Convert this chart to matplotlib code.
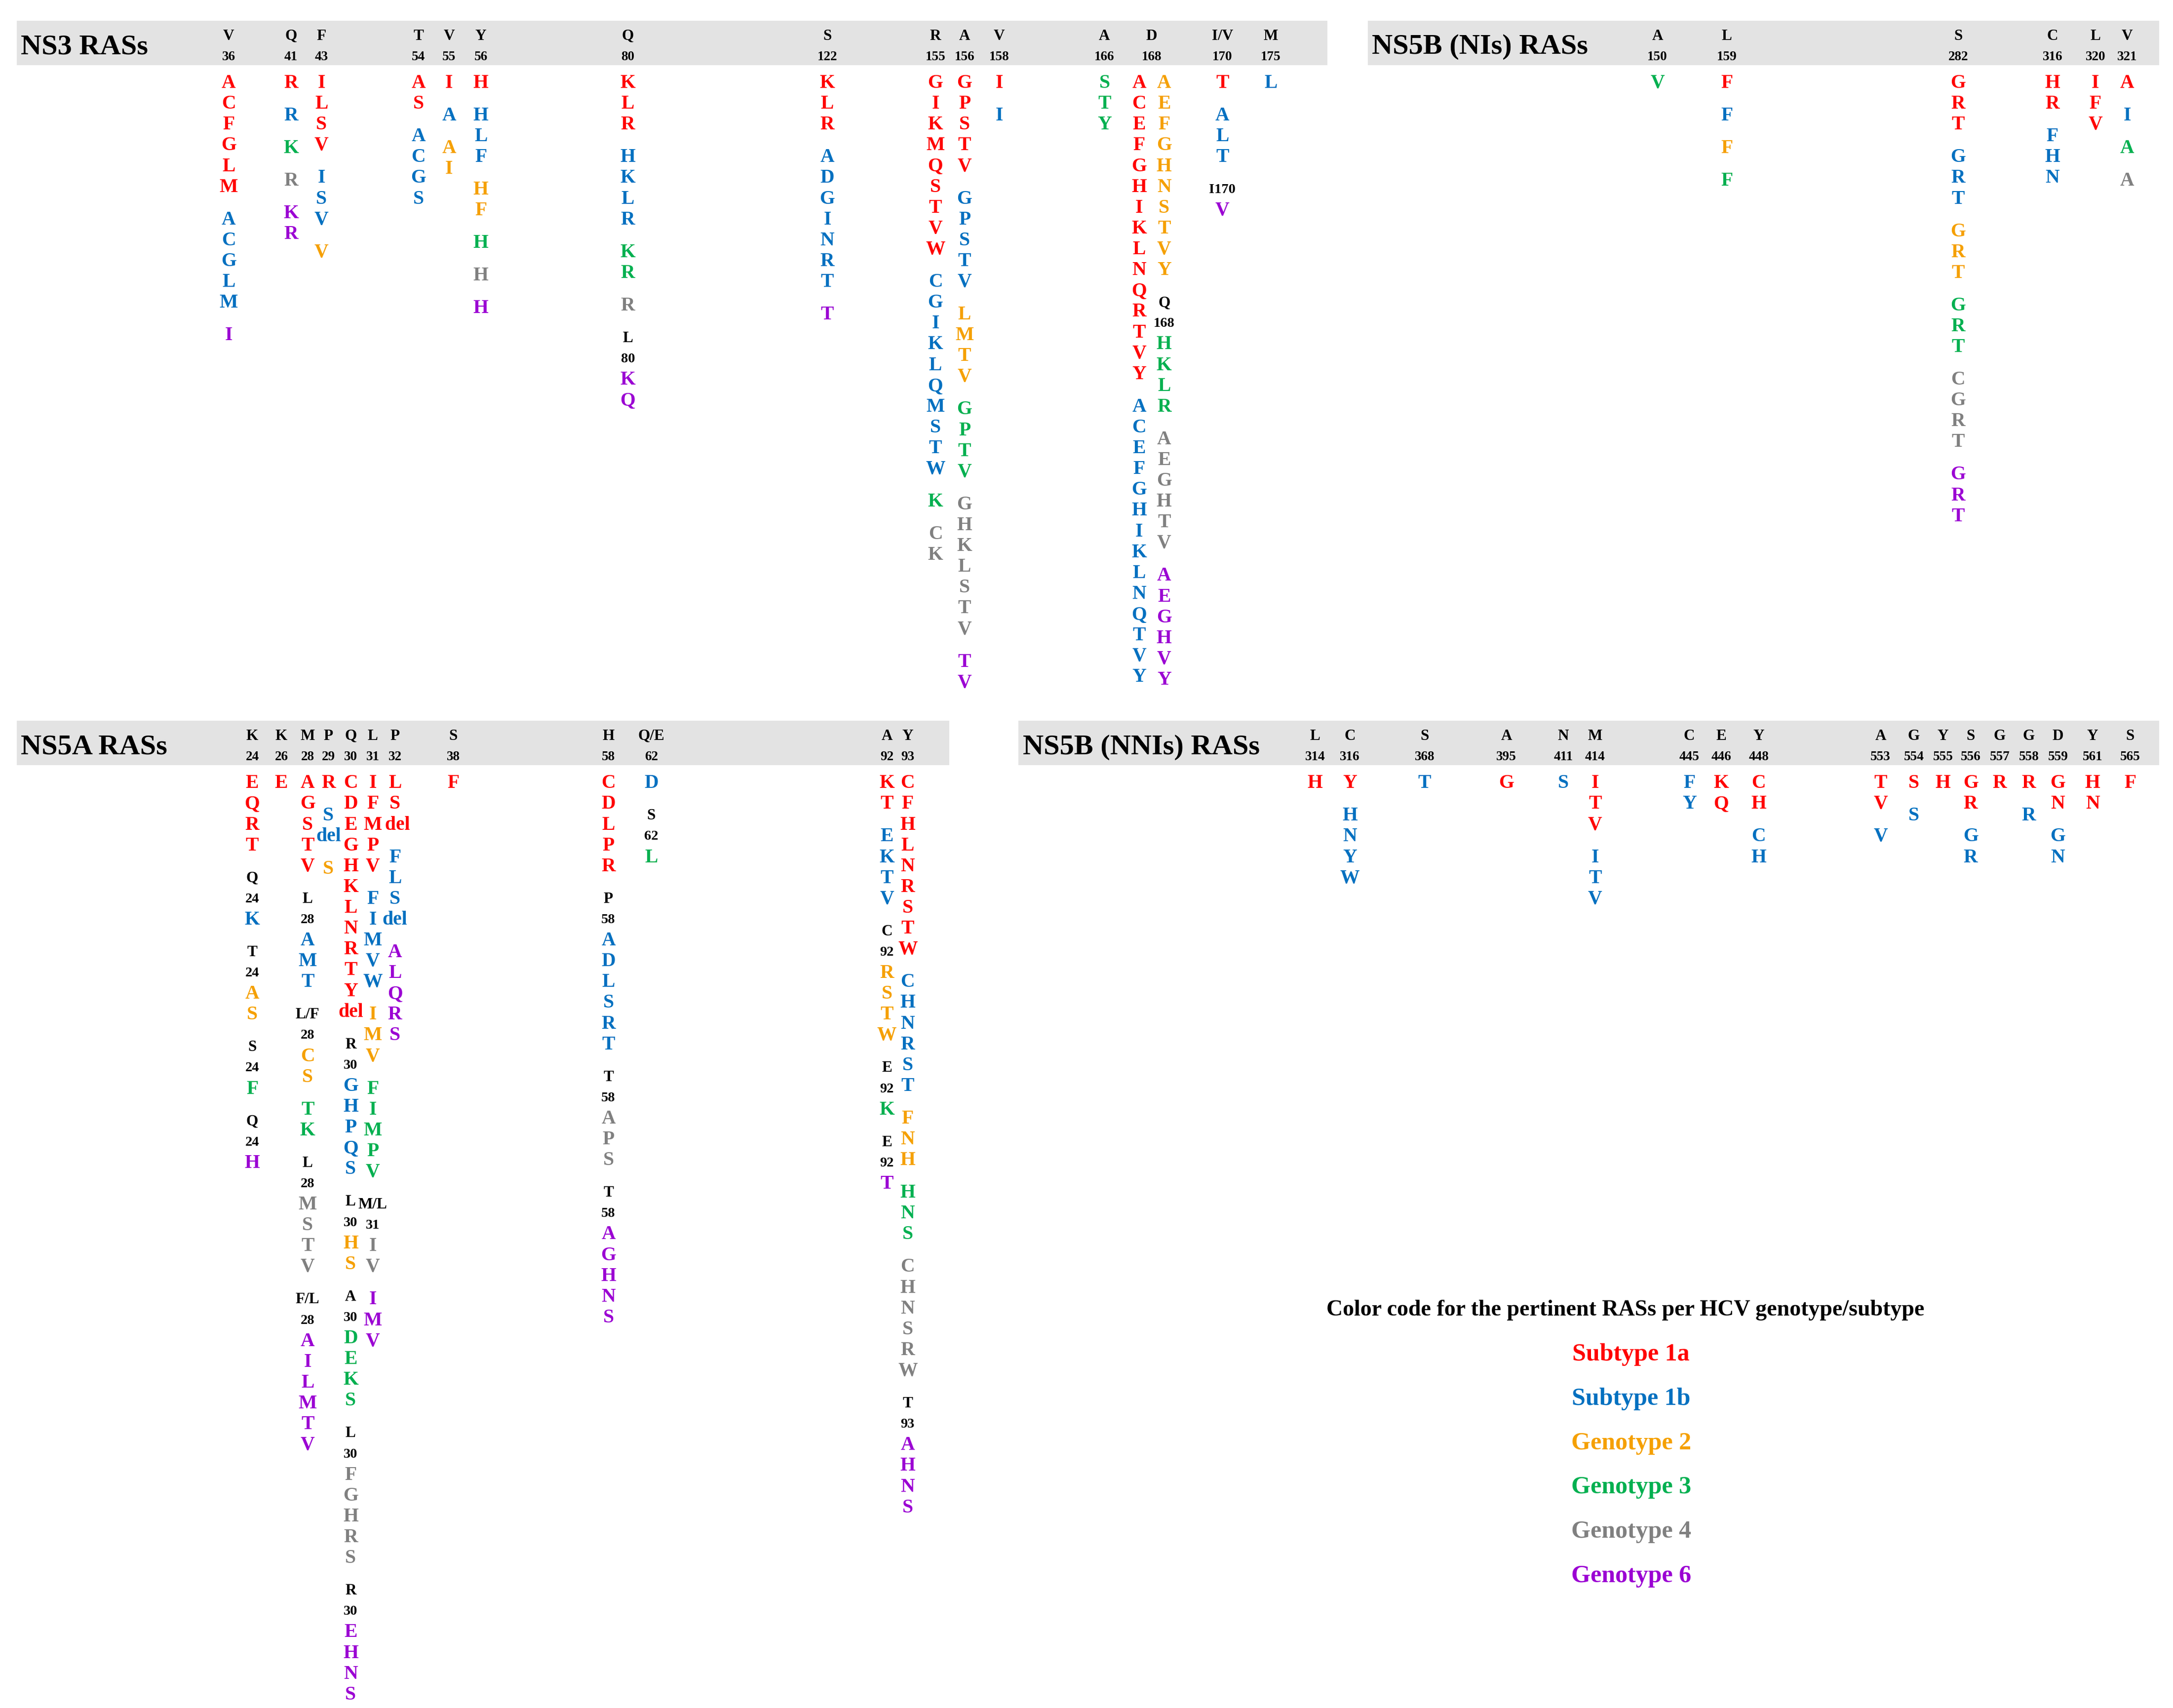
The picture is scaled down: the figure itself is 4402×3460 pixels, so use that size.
import matplotlib
matplotlib.use("Agg")
import matplotlib.pyplot as plt
from matplotlib.patches import Rectangle

COL = {'r': '#ff0000', 'b': '#0070c0', 'o': '#f5a000', 'g': '#00b050',
       'y': '#808080', 'p': '#9b00d3', 'k': '#000000'}

# Each column: (x, residue, number, [groups]); group = (colour, letters, label)
NS3 = [
    (165, 'V', '36', [('r', 'ACFGLM', None), ('b', 'ACGLM', None), ('p', 'I', None)]),
    (210, 'Q', '41', [('r', 'R', None), ('b', 'R', None), ('g', 'K', None), ('y', 'R', None), ('p', 'KR', None)]),
    (232, 'F', '43', [('r', 'ILSV', None), ('b', 'ISV', None), ('o', 'V', None)]),
    (302, 'T', '54', [('r', 'AS', None), ('b', 'ACGS', None)]),
    (324, 'V', '55', [('r', 'I', None), ('b', 'A', None), ('o', 'AI', None)]),
    (347, 'Y', '56', [('r', 'H', None), ('b', 'HLF', None), ('o', 'HF', None), ('g', 'H', None), ('y', 'H', None), ('p', 'H', None)]),
    (453, 'Q', '80', [('r', 'KLR', None), ('b', 'HKLR', None), ('g', 'KR', None), ('y', 'R', None), ('p', 'KQ', ('L', '80'))]),
    (597, 'S', '122', [('r', 'KLR', None), ('b', 'ADGINRT', None), ('p', 'T', None)]),
    (675, 'R', '155', [('r', 'GIKMQSTVW', None), ('b', 'CGIKLQMSTW', None), ('g', 'K', None), ('y', 'CK', None)]),
    (696, 'A', '156', [('r', 'GPSTV', None), ('b', 'GPSTV', None), ('o', 'LMTV', None), ('g', 'GPTV', None), ('y', 'GHKLSTV', None), ('p', 'TV', None)]),
    (721, 'V', '158', [('r', 'I', None), ('b', 'I', None)]),
    (797, 'A', '166', [('g', 'STY', None)]),
    (822, '', '', [('r', 'ACEFGHIKLNQRTVY', None), ('b', 'ACEFGHIKLNQTVY', None)]),
    (840, '', '', [('o', 'AEFGHNSTVY', None), ('g', 'HKLR', ('Q', '168')), ('y', 'AEGHTV', None), ('p', 'AEGHVY', None)]),
    (831, 'D', '168', []),
    (882, 'I/V', '170', [('r', 'T', None), ('b', 'ALT', None), ('p', 'V', ('I170',))]),
    (917, 'M', '175', [('b', 'L', None)]),
]

NS5B_NI = [
    (1196, 'A', '150', [('g', 'V', None)]),
    (1246, 'L', '159', [('r', 'F', None), ('b', 'F', None), ('o', 'F', None), ('g', 'F', None)]),
    (1413, 'S', '282', [('r', 'GRT', None), ('b', 'GRT', None), ('o', 'GRT', None), ('g', 'GRT', None), ('y', 'CGRT', None), ('p', 'GRT', None)]),
    (1481, 'C', '316', [('r', 'HR', None), ('b', 'FHN', None)]),
    (1512, 'L', '320', [('r', 'IFV', None)]),
    (1535, 'V', '321', [('r', 'A', None), ('b', 'I', None), ('g', 'A', None), ('y', 'A', None)]),
]

NS5A = [
    (182, 'K', '24', [('r', 'EQRT', None), ('b', 'K', ('Q', '24')), ('o', 'AS', ('T', '24')), ('g', 'F', ('S', '24')), ('p', 'H', ('Q', '24'))]),
    (203, 'K', '26', [('r', 'E', None)]),
    (222, 'M', '28', [('r', 'AGSTV', None), ('b', 'AMT', ('L', '28')), ('o', 'CS', ('L/F', '28')), ('g', 'TK', None), ('y', 'MSTV', ('L', '28')), ('p', 'AILMTV', ('F/L', '28'))]),
    (237, 'P', '29', [('r', 'R', None), ('b', ['S', 'del'], None), ('o', 'S', None)]),
    (253, 'Q', '30', [('r', list('CDEGHKLNRTY') + ['del'], None), ('b', 'GHPQS', ('R', '30')), ('o', 'HS', ('L', '30')), ('g', 'DEKS', ('A', '30')), ('y', 'FGHRS', ('L', '30')), ('p', 'EHNS', ('R', '30'))]),
    (269, 'L', '31', [('r', 'IFMPV', None), ('b', 'FIMVW', None), ('o', 'IMV', None), ('g', 'FIMPV', None), ('y', 'IV', ('M/L', '31')), ('p', 'IMV', None)]),
    (285, 'P', '32', [('r', ['L', 'S', ' del'], None), ('b', ['F', 'L', 'S', 'del'], None), ('p', 'ALQRS', None)]),
    (327, 'S', '38', [('r', 'F', None)]),
    (439, 'H', '58', [('r', 'CDLPR', None), ('b', 'ADLSRT', ('P', '58')), ('y', 'APS', ('T', '58')), ('p', 'AGHNS', ('T', '58'))]),
    (470, 'Q/E', '62', [('b', 'D', None), ('g', 'L', ('S', '62'))]),
    (640, 'A', '92', [('r', 'KT', None), ('b', 'EKTV', None), ('o', 'RSTW', ('C', '92')), ('g', 'K', ('E', '92')), ('p', 'T', ('E', '92'))]),
    (655, 'Y', '93', [('r', 'CFHLNRSTW', None), ('b', 'CHNRST', None), ('o', 'FNH', None), ('g', 'HNS', None), ('y', 'CHNSRW', None), ('p', 'AHNS', ('T', '93'))]),
]

NS5B_NNI = [
    (949, 'L', '314', [('r', 'H', None)]),
    (974, 'C', '316', [('r', 'Y', None), ('b', 'HNYW', None)]),
    (1028, 'S', '368', [('b', 'T', None)]),
    (1087, 'A', '395', [('r', 'G', None)]),
    (1128, 'N', '411', [('b', 'S', None)]),
    (1151, 'M', '414', [('r', 'ITV', None), ('b', 'ITV', None)]),
    (1219, 'C', '445', [('b', 'FY', None)]),
    (1242, 'E', '446', [('r', 'KQ', None)]),
    (1269, 'Y', '448', [('r', 'CH', None), ('b', 'CH', None)]),
    (1357, 'A', '553', [('r', 'TV', None), ('b', 'V', None)]),
    (1381, 'G', '554', [('r', 'S', None), ('b', 'S', None)]),
    (1402, 'Y', '555', [('r', 'H', None)]),
    (1422, 'S', '556', [('r', 'GR', None), ('b', 'GR', None)]),
    (1443, 'G', '557', [('r', 'R', None)]),
    (1464, 'G', '558', [('r', 'R', None), ('b', 'R', None)]),
    (1485, 'D', '559', [('r', 'GN', None), ('b', 'GN', None)]),
    (1510, 'Y', '561', [('r', 'HN', None)]),
    (1537, 'S', '565', [('r', 'F', None)]),
]

LEGEND_TITLE = 'Color code for the pertinent RASs per HCV genotype/subtype'
LEGEND = [('r', 'Subtype 1a'), ('b', 'Subtype 1b'), ('o', 'Genotype 2'),
          ('g', 'Genotype 3'), ('y', 'Genotype 4'), ('p', 'Genotype 6')]

FONT = 'Liberation Serif'
fig = plt.figure(figsize=(4402 / 300, 3460 / 300), dpi=300)
ax = fig.add_axes([0, 0, 1, 1])
ax.set_xlim(0, 1568)
ax.set_ylim(1232, 0)
ax.axis('off')

STEP = 15.0
GAP = 8.5
FS = 9.5


def panel(title, x0, x1, ytop, cols):
    ax.add_patch(Rectangle((x0, ytop), x1 - x0, 32, facecolor='#e3e3e3', edgecolor='none', zorder=0))
    ax.text(x0 + 3, ytop + 19, title, fontsize=14, fontweight='bold', family=FONT, va='center', ha='left')
    for x, res, num, groups in cols:
        if res:
            ax.text(x, ytop + 11, res, fontsize=7.5, fontweight='bold', family=FONT, ha='center', va='center')
            ax.text(x, ytop + 26, num, fontsize=6.5, fontweight='bold', family=FONT, ha='center', va='center')
        y = ytop + 45
        for i, (c, letters, label) in enumerate(groups):
            if i > 0:
                y += GAP
            if label:
                for j, t in enumerate(label):
                    fs = 7.5 if (j == 0 and len(label) > 1) else 6.8
                    if len(label) == 1:
                        fs = 6.8
                    ax.text(x, y, t, fontsize=fs, fontweight='bold', family=FONT, ha='center', va='center', color='black')
                    y += STEP
            for L in letters:
                ax.text(x, y, L, fontsize=FS, fontweight='bold', family=FONT, ha='center', va='center', color=COL[c])
                y += STEP
            y -= STEP
            y += STEP


panel('NS3 RASs', 12, 958, 15, NS3)
panel('NS5B (NIs) RASs', 987, 1558, 15, NS5B_NI)
panel('NS5A RASs', 12, 685, 520, NS5A)
panel('NS5B (NNIs) RASs', 735, 1558, 520, NS5B_NNI)

ax.text(1173, 945, LEGEND_TITLE, fontsize=11, fontweight='bold', family=FONT, ha='center', va='center')
for i, (c, t) in enumerate(LEGEND):
    ax.text(1177, 977 + 32 * i, t, fontsize=12, fontweight='bold', family=FONT, ha='center', va='center', color=COL[c])

fig.savefig('out.png', dpi=300)
